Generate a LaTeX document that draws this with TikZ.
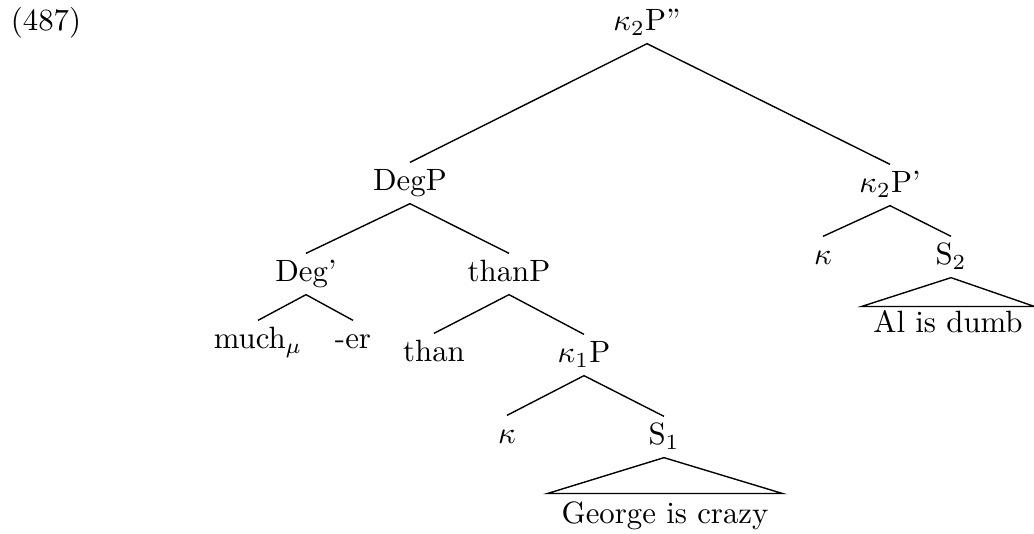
\documentclass[tikz,border=0pt]{standalone}
\begin{document}
\begin{tikzpicture}[x=0.3245pt,y=-0.3245pt,
  lab/.style={inner xsep=1pt, inner ysep=2pt, text height=7pt, text depth=2pt},
  branch/.style={line width=0.45pt}]
\useasboundingbox (0,0) rectangle (1034,533);
\node[lab] (ex) at (46,23) {(487)};
\node[lab] (root) at (647,23) {$\kappa_2$P"};
\node[lab] (degp) at (410,183) {DegP};
\node[lab] (k2p) at (890,185) {$\kappa_2$P'};
\node[lab] (degbar) at (306,274) {Deg'};
\node[lab] (thanp) at (509,274) {thanP};
\node[lab] (much) at (258,341) {much$_\mu$};
\node[lab] (er) at (353,341) {-er};
\node[lab] (than) at (434,354) {than};
\node[lab] (k1p) at (584,355) {$\kappa_1$P};
\node[lab] (kapa) at (507,436) {$\kappa$};
\node[lab] (sone) at (664,437) {S$_1$};
\node[lab] (kapb) at (823,257) {$\kappa$};
\node[lab] (stwo) at (951,257) {S$_2$};
\node[lab, inner xsep=4.4pt, inner ysep=2.6pt] (george) at (665,516) {George is crazy};
\node[lab, inner xsep=3.7pt, inner ysep=1.3pt] (al) at (948,325) {Al is dumb};
\draw[branch] (degp.north) -- (root.south) -- (k2p.north);
\draw[branch] (degbar.north) -- (degp.south) -- (thanp.north);
\draw[branch] (much.north) -- (degbar.south) -- (er.north);
\draw[branch] (than.north) -- (thanp.south) -- (k1p.north);
\draw[branch] (kapa.north) -- (k1p.south) -- (sone.north);
\draw[branch] (kapb.north) -- (k2p.south) -- (stwo.north);
\draw[branch] (sone.south) -- (george.north west) -- (george.north east) -- cycle;
\draw[branch] (stwo.south) -- (al.north west) -- (al.north east) -- cycle;
\end{tikzpicture}
\end{document}
